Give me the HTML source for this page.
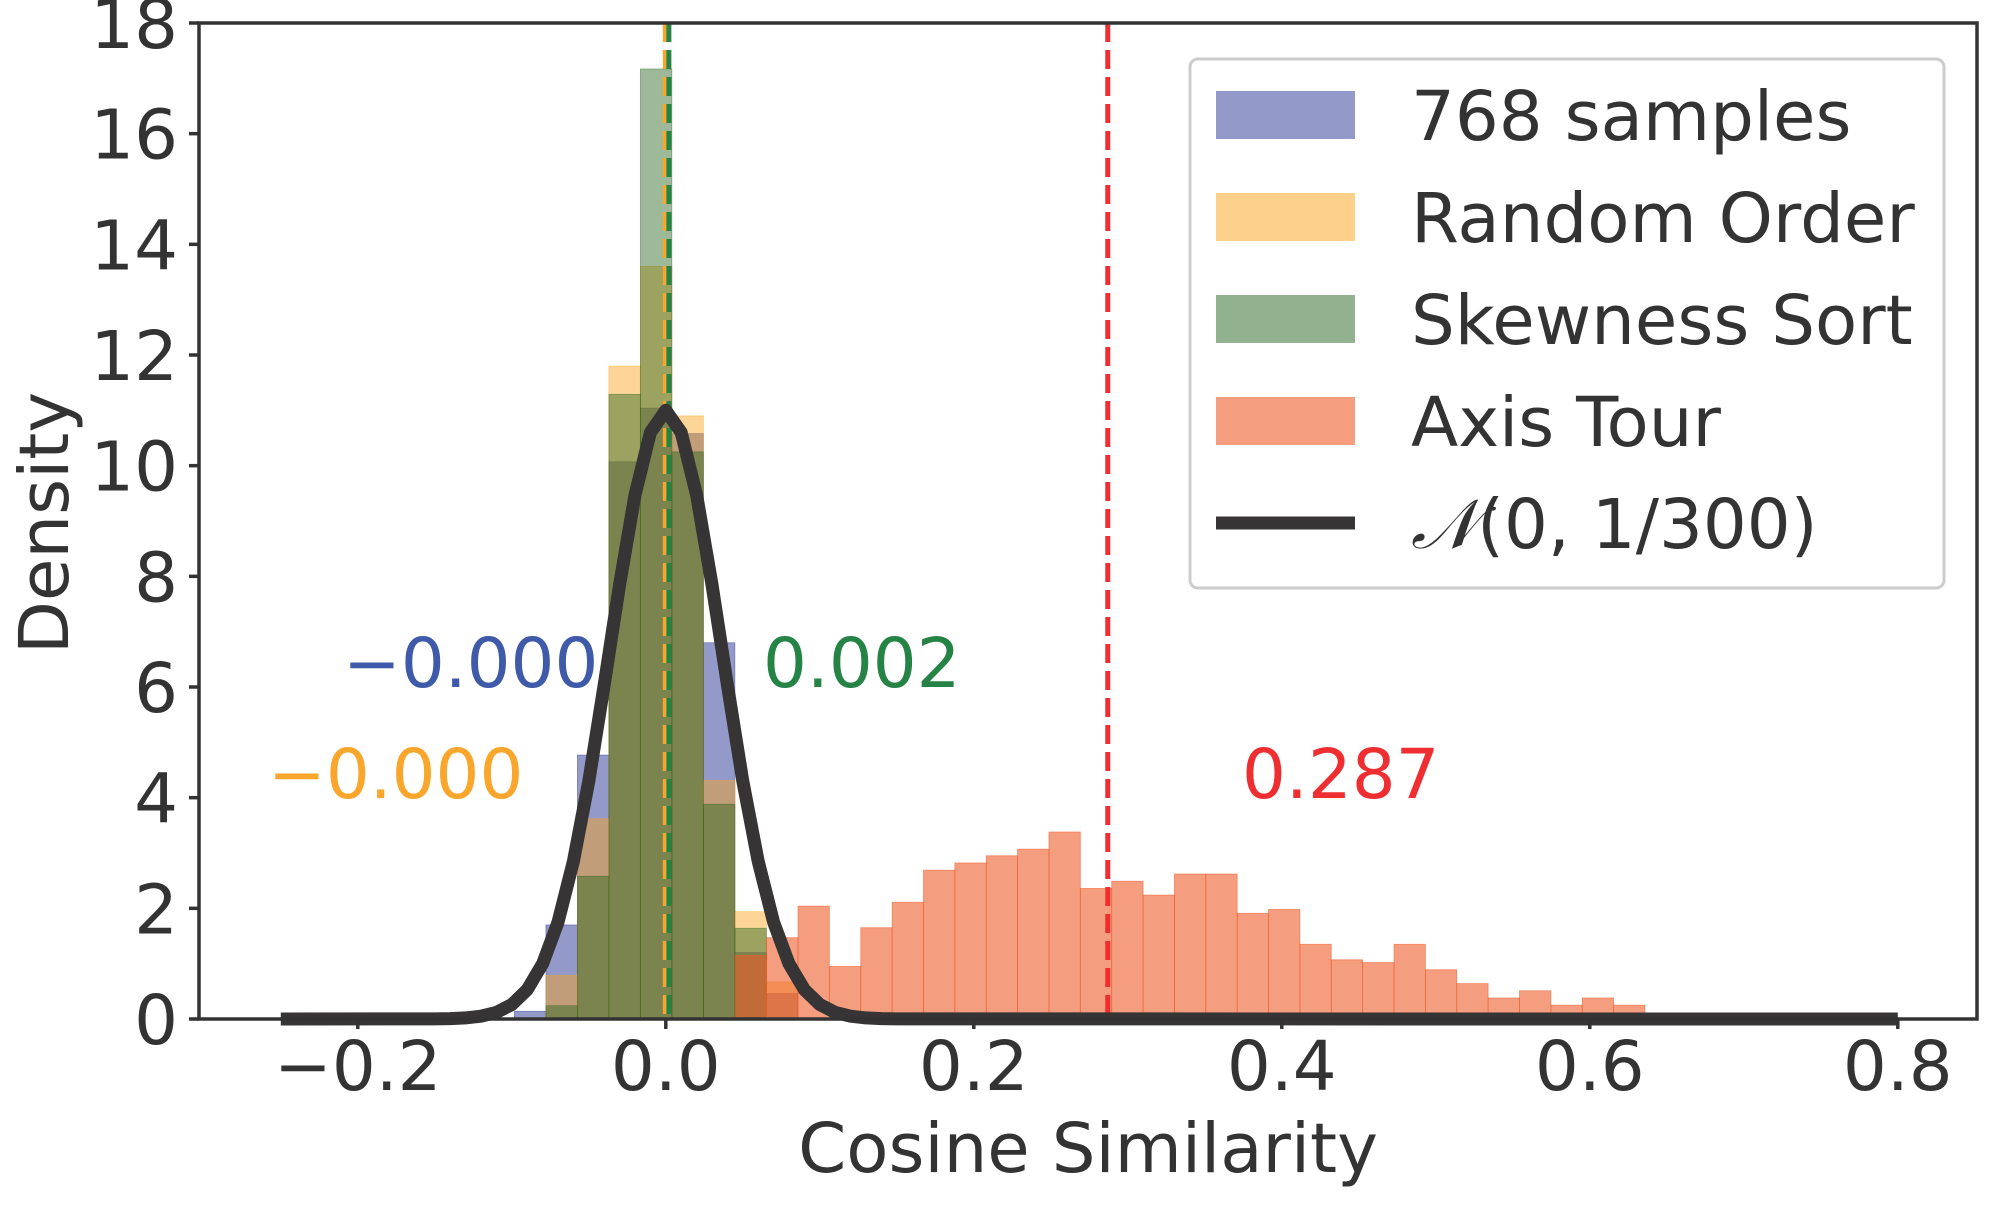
<!DOCTYPE html>
<html><head><meta charset="utf-8"><style>
html,body{margin:0;padding:0;background:#fff;}
svg text{font-family:"DejaVu Sans","Liberation Sans",sans-serif;}
</style></head><body>
<svg id="chart" width="2000" height="1200" viewBox="0 0 2000 1200" xmlns="http://www.w3.org/2000/svg">
<rect x="0" y="0" width="2000" height="1200" fill="#fff"/>
<g id="bars"></g>
<g id="annots"></g>
<g id="vlines"></g>
<g id="curve"></g>
<g id="axes"></g>
<g id="legend"></g>
</svg>
<script>
// ---- data ----
const smallStart = -0.0983;
const smallStep = 0.02045;
const blueVals   = [0.14, 1.70, 4.77, 10.07, 11.04, 10.58, 6.80, 1.20, 0.46];
const orangeVals = [0.00, 0.79, 3.62, 11.80, 13.60, 10.90, 4.31, 1.94, 0.67];
const greenVals  = [0.00, 0.24, 2.58, 11.29, 17.17, 10.25, 3.88, 1.64, 0.00];
const redStart = 0.0451;
const redStep = 0.02037;
const redVals = [1.15,1.47,2.04,0.95,1.65,2.11,2.69,2.82,2.95,3.07,3.38,2.36,2.49,2.24,2.62,2.62,1.91,1.98,1.35,1.07,1.02,1.35,0.89,0.64,0.38,0.51,0.25,0.38,0.25,0,0,0,0.1,0.1];
const curveX = [-0.25,-0.15,-0.14,-0.13,-0.12,-0.11,-0.10,-0.09,-0.08,-0.07,-0.06,-0.05,-0.04,-0.03,-0.02,-0.01,0,0.01,0.02,0.03,0.04,0.05,0.06,0.07,0.08,0.09,0.10,0.11,0.12,0.13,0.14,0.15,0.80];
const curveY = [0,0.002,0.007,0.02,0.05,0.12,0.26,0.53,1.00,1.75,2.85,4.30,6.04,7.85,9.47,10.6,11.0,10.6,9.47,7.85,6.04,4.30,2.85,1.75,1.00,0.53,0.26,0.12,0.05,0.02,0.007,0.002,0];
const meanVals = [-0.0002, -0.0003, 0.002, 0.287];
const meanLabels = ["\u22120.000","\u22120.000","0.002","0.287"];
const xTicks = [-0.2,0,0.2,0.4,0.6,0.8];
const xTickLabels = ["\u22120.2","0.0","0.2","0.4","0.6","0.8"];
const yTicks = [0,2,4,6,8,10,12,14,16,18];
const legendLabels = ["768 samples","Random Order","Skewness Sort","Axis Tour"];

// ---- scales ----
const L=199,R=1977,T=23,B=1019;
const X0=665.8, XPER=1540;
const xs=v=>X0+v*XPER;
const ys=v=>B-v*(B-T)/18;
const NS="http://www.w3.org/2000/svg";
function mk(tag,attrs,parent){const e=document.createElementNS(NS,tag);for(const k in attrs)e.setAttribute(k,attrs[k]);parent.appendChild(e);return e;}

const bars=document.getElementById('bars');
function hist(vals,start,step,fill,name){
  vals.forEach((v,i)=>{
    if(v<=0)return;
    const x1=xs(start+i*step),x2=xs(start+(i+1)*step);
    const r=mk('rect',{x:x1,y:ys(v),width:x2-x1,height:B-ys(v),fill:fill,stroke:fill,'stroke-width':0.8},bars);
    
    
  });
}
hist(blueVals,smallStart,smallStep,'rgba(59,70,157,0.55)','samples-768');
hist(orangeVals,smallStart,smallStep,'rgba(251,161,25,0.45)','random-order');
hist(greenVals,smallStart,smallStep,'rgba(37,99,29,0.45)','skewness-sort');
hist(redVals,redStart,redStep,'rgba(238,92,42,0.6)','axis-tour');

// annotations
const an=document.getElementById('annots');
const annPos=[[343,662,'#3f5aa8'],[268,773,'#f9a62c'],[763,662,'#258346'],[1242,773,'#ee2e31']];
meanLabels.forEach((t,i)=>{
  const e=mk('text',{x:annPos[i][0],y:annPos[i][1]+25,'font-size':69,fill:annPos[i][2]},an);
  e.textContent=t;
  
  
});

// mean lines
const vl=document.getElementById('vlines');
const lineCols=['#3f5aa8','#f9a62c','#258346','#ee2e31'];
[0,1,2,3].forEach(i=>{
  const x=xs(meanVals[i]);
  const e=mk('line',{x1:x,x2:x,y1:T,y2:B,stroke:lineCols[i],'stroke-width':5,'stroke-dasharray':'19,8'},vl);
  
  
});

// curve
const cg=document.getElementById('curve');
const pts=curveX.map((x,i)=>xs(x).toFixed(1)+','+ys(curveY[i]).toFixed(1)).join(' ');
const pl=mk('polyline',{points:pts,fill:'none',stroke:'#363435','stroke-width':13,'stroke-linejoin':'round'},cg);



// axes
const ax=document.getElementById('axes');
mk('rect',{x:L,y:T,width:R-L,height:B-T,fill:'none',stroke:'#333','stroke-width':3.5},ax);
xTicks.forEach((v,i)=>{
  const x=xs(v);
  mk('line',{x1:x,x2:x,y1:B,y2:B+10,stroke:'#333','stroke-width':3.5},ax);
  const t=mk('text',{x:x,y:B+71,'font-size':69,fill:'#333','text-anchor':'middle'},ax);
  t.textContent=xTickLabels[i];
  
  
});
yTicks.forEach(v=>{
  const y=ys(v);
  mk('line',{x1:L-10,x2:L,y1:y,y2:y,stroke:'#333','stroke-width':3.5},ax);
  const t=mk('text',{x:178,y:y+25,'font-size':69,fill:'#333','text-anchor':'end'},ax);
  t.textContent=String(v);
  
  
});
const xl=mk('text',{x:1088,y:1172,'font-size':69,fill:'#333','text-anchor':'middle'},ax);
xl.textContent='Cosine Similarity';


const yl=mk('text',{x:0,y:0,'font-size':69,fill:'#333','text-anchor':'middle',transform:'translate(68,523) rotate(-90)'},ax);
yl.textContent='Density';



// legend
const lg=document.getElementById('legend');
mk('rect',{x:1190,y:59,width:754,height:529,rx:8,fill:'rgba(255,255,255,0.8)',stroke:'#ccc','stroke-width':3},lg);
const patchCols=['#9399c9','#fdd08c','#92b18e','#f59d7f'];
const rowY=[115,217,319,421,523];
legendLabels.forEach((t,i)=>{
  const p=mk('rect',{x:1216,y:rowY[i]-24,width:139,height:48,fill:patchCols[i]},lg);
  
  
  const e=mk('text',{x:1411,y:rowY[i]+25,'font-size':69,fill:'#333'},lg);
  e.textContent=t;
  
  
});
mk('line',{x1:1216,x2:1355,y1:rowY[4],y2:rowY[4],stroke:'#363435','stroke-width':13},lg);
const nl=mk('text',{x:1411,y:rowY[4]+25,'font-size':69,fill:'#333'},lg);
nl.innerHTML='<tspan font-style="italic" font-family="Liberation Serif, serif">\u{1D4A9}</tspan>(0, 1/300)';


</script>
</body></html>
